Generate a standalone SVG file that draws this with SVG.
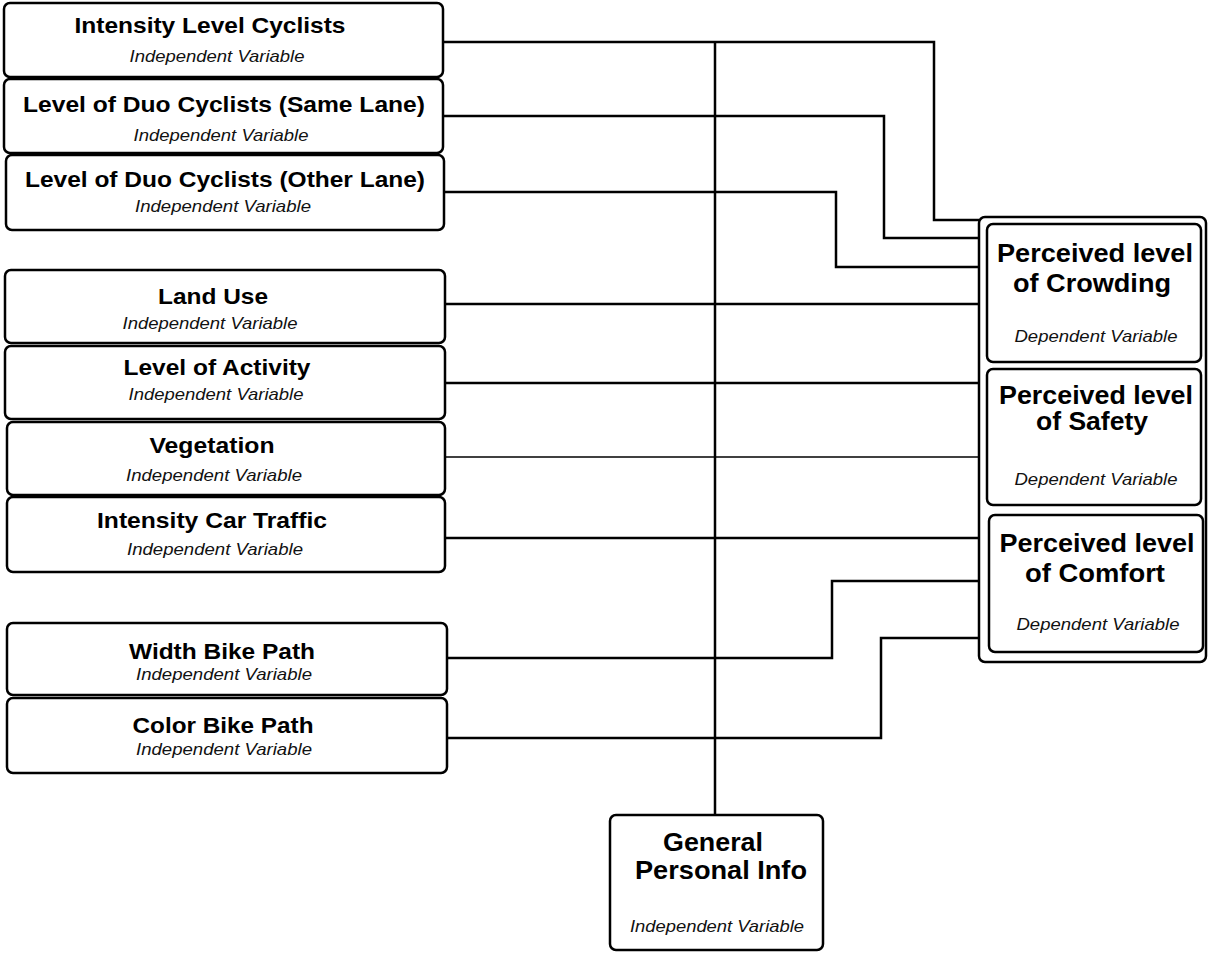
<svg xmlns="http://www.w3.org/2000/svg" width="1208" height="954" viewBox="0 0 1208 954">
<style>
  .box { fill: #ffffff; stroke: #000000; stroke-width: 2.5; }
  .t { font-family: "Liberation Sans", Arial, sans-serif; font-weight: bold; font-size: 22px; fill: #000; text-anchor: middle; }
  .tr { font-family: "Liberation Sans", Arial, sans-serif; font-weight: bold; font-size: 25px; fill: #000; text-anchor: middle; }
  .s { font-family: "Liberation Sans", Arial, sans-serif; font-style: italic; font-size: 17px; fill: #111; text-anchor: middle; }
  .c { fill: none; stroke: #000; stroke-width: 2.5; }
</style>
<rect width="1208" height="954" fill="#ffffff"/>
<g id="connectors">
  <path class="c" d="M715 42 V815"/>
  <path class="c" d="M443 42 H934 V220 H979"/>
  <path class="c" d="M443 116 H884 V238 H979"/>
  <path class="c" d="M444 192 H836 V267 H979"/>
  <path class="c" d="M445 304 H979"/>
  <path class="c" d="M445 383 H979"/>
  <path class="c" d="M445 457 H979" style="stroke-width:1.6"/>
  <path class="c" d="M445 538 H979"/>
  <path class="c" d="M447 658 H832 V581 H979"/>
  <path class="c" d="M447 738 H881 V638 H979"/>
</g>
<g id="intensity-level-cyclists">
  <rect class="box" x="4" y="3" width="439" height="74" rx="6"/>
  <text class="t" x="210" y="33" textLength="271" lengthAdjust="spacingAndGlyphs">Intensity Level Cyclists</text>
  <text class="s" x="217" y="62" textLength="175" lengthAdjust="spacingAndGlyphs">Independent Variable</text>
</g>
<g id="duo-same-lane">
  <rect class="box" x="4" y="79" width="439" height="74" rx="6"/>
  <text class="t" x="224" y="112" textLength="402" lengthAdjust="spacingAndGlyphs">Level of Duo Cyclists (Same Lane)</text>
  <text class="s" x="221" y="141" textLength="175" lengthAdjust="spacingAndGlyphs">Independent Variable</text>
</g>
<g id="duo-other-lane">
  <rect class="box" x="6" y="155" width="438" height="75" rx="6"/>
  <text class="t" x="225" y="187" textLength="400" lengthAdjust="spacingAndGlyphs">Level of Duo Cyclists (Other Lane)</text>
  <text class="s" x="223" y="212" textLength="176" lengthAdjust="spacingAndGlyphs">Independent Variable</text>
</g>
<g id="land-use">
  <rect class="box" x="5" y="270" width="440" height="73" rx="6"/>
  <text class="t" x="213" y="304" textLength="110" lengthAdjust="spacingAndGlyphs">Land Use</text>
  <text class="s" x="210" y="329" textLength="175" lengthAdjust="spacingAndGlyphs">Independent Variable</text>
</g>
<g id="level-of-activity">
  <rect class="box" x="5" y="346" width="440" height="73" rx="6"/>
  <text class="t" x="217" y="375" textLength="187" lengthAdjust="spacingAndGlyphs">Level of Activity</text>
  <text class="s" x="216" y="400" textLength="175" lengthAdjust="spacingAndGlyphs">Independent Variable</text>
</g>
<g id="vegetation">
  <rect class="box" x="7" y="422" width="438" height="73" rx="6"/>
  <text class="t" x="212" y="453" textLength="125" lengthAdjust="spacingAndGlyphs">Vegetation</text>
  <text class="s" x="214" y="481" textLength="176" lengthAdjust="spacingAndGlyphs">Independent Variable</text>
</g>
<g id="intensity-car-traffic">
  <rect class="box" x="7" y="497" width="438" height="75" rx="6"/>
  <text class="t" x="212" y="528" textLength="230" lengthAdjust="spacingAndGlyphs">Intensity Car Traffic</text>
  <text class="s" x="215" y="555" textLength="176" lengthAdjust="spacingAndGlyphs">Independent Variable</text>
</g>
<g id="width-bike-path">
  <rect class="box" x="7" y="623" width="440" height="72" rx="6"/>
  <text class="t" x="222" y="659" textLength="186" lengthAdjust="spacingAndGlyphs">Width Bike Path</text>
  <text class="s" x="224" y="680" textLength="176" lengthAdjust="spacingAndGlyphs">Independent Variable</text>
</g>
<g id="color-bike-path">
  <rect class="box" x="7" y="698" width="440" height="75" rx="6"/>
  <text class="t" x="223" y="733" textLength="181" lengthAdjust="spacingAndGlyphs">Color Bike Path</text>
  <text class="s" x="224" y="755" textLength="176" lengthAdjust="spacingAndGlyphs">Independent Variable</text>
</g>
<g id="dependent-group">
  <rect class="box" x="979" y="217" width="227" height="445" rx="6"/>
</g>
<g id="crowding">
  <rect class="box" x="987" y="224" width="214" height="138" rx="6"/>
  <text class="tr" x="1095" y="262" textLength="196" lengthAdjust="spacingAndGlyphs">Perceived level</text>
  <text class="tr" x="1092" y="292" textLength="158" lengthAdjust="spacingAndGlyphs">of Crowding</text>
  <text class="s" x="1096" y="342" textLength="163" lengthAdjust="spacingAndGlyphs">Dependent Variable</text>
</g>
<g id="safety">
  <rect class="box" x="987" y="369" width="214" height="136" rx="6"/>
  <text class="tr" x="1096" y="404" textLength="194" lengthAdjust="spacingAndGlyphs">Perceived level</text>
  <text class="tr" x="1092" y="430" textLength="112" lengthAdjust="spacingAndGlyphs">of Safety</text>
  <text class="s" x="1096" y="485" textLength="163" lengthAdjust="spacingAndGlyphs">Dependent Variable</text>
</g>
<g id="comfort">
  <rect class="box" x="989" y="515" width="214" height="137" rx="6"/>
  <text class="tr" x="1097" y="552" textLength="195" lengthAdjust="spacingAndGlyphs">Perceived level</text>
  <text class="tr" x="1095" y="582" textLength="140" lengthAdjust="spacingAndGlyphs">of Comfort</text>
  <text class="s" x="1098" y="630" textLength="163" lengthAdjust="spacingAndGlyphs">Dependent Variable</text>
</g>
<g id="general-personal-info">
  <rect class="box" x="610" y="815" width="213" height="135" rx="6"/>
  <text class="tr" x="713" y="851" textLength="100" lengthAdjust="spacingAndGlyphs">General</text>
  <text class="tr" x="721" y="879" textLength="172" lengthAdjust="spacingAndGlyphs">Personal Info</text>
  <text class="s" x="717" y="932" textLength="174" lengthAdjust="spacingAndGlyphs">Independent Variable</text>
</g>
</svg>
